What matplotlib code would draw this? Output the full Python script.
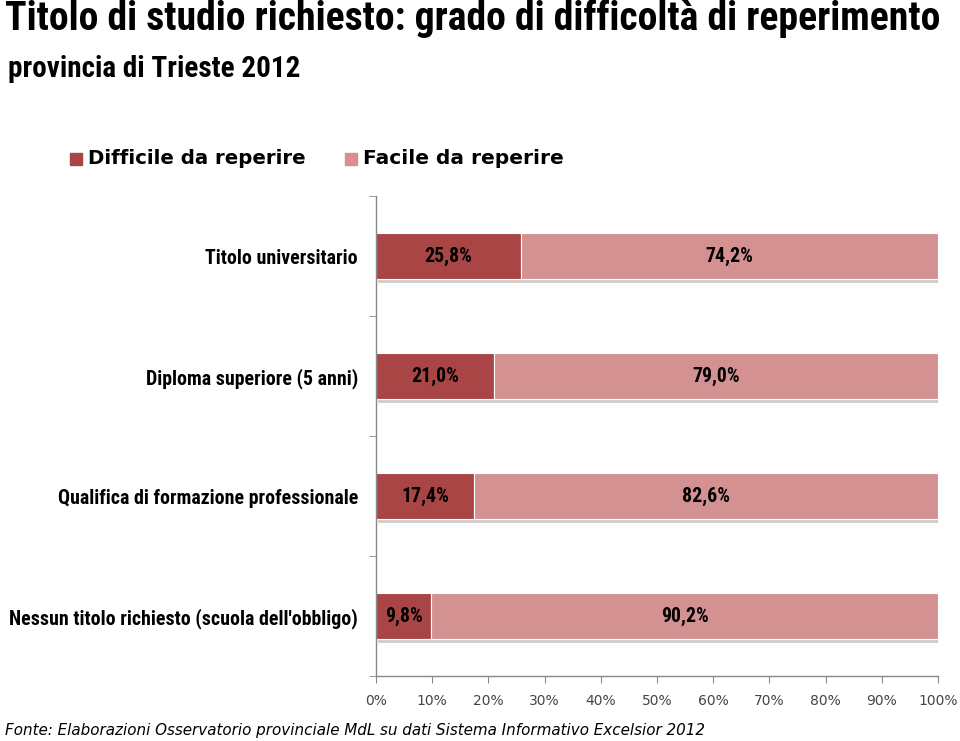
import matplotlib
matplotlib.use("Agg")
import matplotlib.pyplot as plt
from matplotlib import font_manager as fm
from matplotlib.patches import Rectangle
import numpy as np

categories = ["Titolo universitario", "Diploma superiore (5 anni)",
              "Qualifica di formazione professionale",
              "Nessun titolo richiesto (scuola dell'obbligo)"]
difficile = [25.8, 21.0, 17.4, 9.8]
facile = [74.2, 79.0, 82.6, 90.2]
xticks = [0, 10, 20, 30, 40, 50, 60, 70, 80, 90, 100]
series_names = ["Difficile da reperire", "Facile da reperire"]

names = {f.name for f in fm.fontManager.ttflist}


def pick(cands):
    for c in cands:
        if c in names:
            return c
    return "DejaVu Sans"


narrow = pick(["Arial Narrow", "Liberation Sans Narrow", "Roboto Condensed", "Archivo Narrow",
               "PT Sans Narrow", "Open Sans Condensed", "Barlow Condensed", "Pathway Gothic One",
               "Oswald", "Fjalla One"])
verd = pick(["Verdana", "DejaVu Sans"])

c_dark = "#A94545"
c_light = "#D49191"

fig = plt.figure(figsize=(9.6, 7.41), dpi=100)
renderer = fig.canvas.get_renderer()


def fit(t, width_px):
    bb = t.get_window_extent(renderer=renderer)
    t.set_fontsize(t.get_fontsize() * width_px / bb.width)


ax = fig.add_axes([376/960, 1-676/741, (938-376)/960, (676-196)/741])

n = len(categories)
y = np.arange(n)[::-1]  # top first
h = 0.385
for yi in y:
    ax.add_patch(Rectangle((0.4, yi - h/2 - 0.035), 100, h, color="#cfcfcf", zorder=1, lw=0))
ax.barh(y, difficile, height=h, color=c_dark, edgecolor="white", linewidth=0.8, zorder=2)
ax.barh(y, facile, left=difficile, height=h, color=c_light, edgecolor="white", linewidth=0.8, zorder=2)

blabels = []
for yi, d, f in zip(y, difficile, facile):
    for xc, v in ((d/2, d), (d + f/2, f)):
        t = ax.text(xc, yi, f"{v:.1f}".replace(".", ",") + "%", ha="center", va="center",
                    fontsize=12.5, fontweight="bold", family=narrow, zorder=3)
        blabels.append(t)

ax.set_xlim(0, 100)
ax.set_ylim(-0.5, n - 0.5)
ax.set_xticks(xticks)
ax.set_xticklabels([f"{t}%" for t in xticks], fontsize=10, color="#444444", family=verd)
ax.set_yticks(y)
ax.set_yticklabels(categories, fontsize=12.5, fontweight="bold", family=narrow)
ax.set_yticks(np.arange(n + 1) - 0.5, minor=True)
ax.tick_params(axis="y", which="major", length=0, pad=13)
ax.tick_params(axis="y", which="minor", length=5, color="#888888")
ax.tick_params(axis="x", length=5, color="#888888", pad=8)
for s in ["top", "right"]:
    ax.spines[s].set_visible(False)
for s in ["left", "bottom"]:
    ax.spines[s].set_color("#888888")
    ax.spines[s].set_linewidth(1)

# fit category label size to the longest label (10 -> 358 px)
fig.canvas.draw()
labs = ax.get_yticklabels()
longest = max(labs, key=lambda t: t.get_window_extent(renderer=renderer).width)
w = longest.get_window_extent(renderer=renderer).width
fs = 12.5 * 348 / w
for t in labs:
    t.set_fontsize(fs)
# bar labels: "25,8%" ~ 48 px wide
w = blabels[0].get_window_extent(renderer=renderer).width
for t in blabels:
    t.set_fontsize(12.5 * 48 / w)

# legend
lx = [70, 345]
lw_target = [216, 198]
for x0, name, col, wt in zip(lx, series_names, [c_dark, c_light], lw_target):
    fig.patches.append(Rectangle((x0/960, 1-165/741), 12/960, 12/741, transform=fig.transFigure,
                                 color=col, figure=fig))
    t = fig.text((x0+18)/960, 1-158/741, name, fontsize=13, fontweight="bold",
                 family=verd, va="center", ha="left")
    fit(t, wt)

t = fig.text(5/960, 1-19/741, "Titolo di studio richiesto: grado di difficoltà di reperimento",
             fontsize=23, fontweight="bold", family=narrow, va="center", ha="left")
fit(t, 940)
t = fig.text(8/960, 1-69/741, "provincia di Trieste 2012",
             fontsize=16, fontweight="bold", family=narrow, va="center", ha="left")
fit(t, 342)
t.set_fontsize(min(t.get_fontsize(), 21))
t = fig.text(5/960, 1-731/741,
             "Fonte: Elaborazioni Osservatorio provinciale MdL su dati Sistema Informativo Excelsior 2012",
             fontsize=13, style="italic", family=verd, va="center", ha="left")
fit(t, 700)

fig.savefig("out.png", dpi=100)
